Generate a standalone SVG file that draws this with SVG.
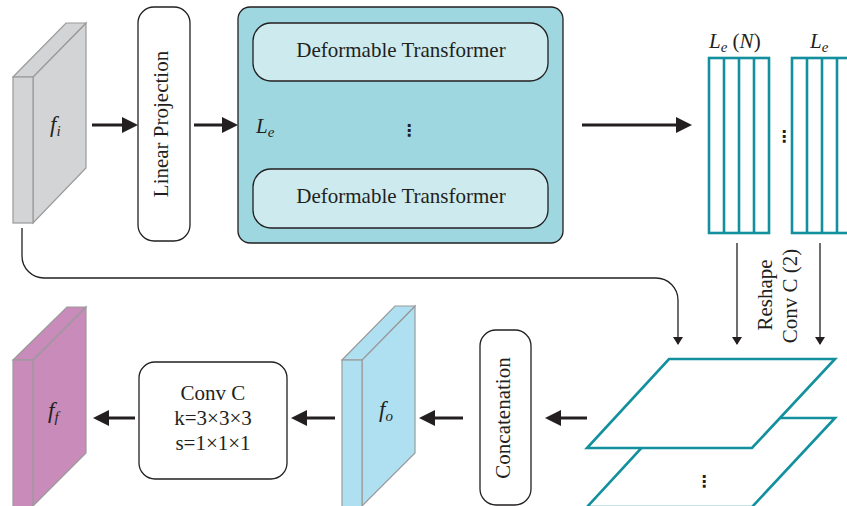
<svg xmlns="http://www.w3.org/2000/svg" width="847" height="506" viewBox="0 0 847 506">
<defs>
<style>
.t{font-family:"Liberation Serif","Times New Roman",serif;font-size:21px;fill:#231f20}
.it{font-style:italic}
.lbl{font-size:23px}
.dots{font-family:"DejaVu Sans",sans-serif;font-size:16px;font-weight:bold;fill:#231f20}
.box{fill:#fff;stroke:#231f20;stroke-width:1.3}
.thick{stroke:#231f20;stroke-width:3;fill:none}
.thin{stroke:#231f20;stroke-width:1.3;fill:none}
.teal{fill:#fff;stroke:#13909d;stroke-width:2.6}
.blk{stroke:#9a9a9a;stroke-width:1.2}
</style>
<marker id="big" markerUnits="userSpaceOnUse" viewBox="0 0 16 16" markerWidth="16" markerHeight="16" refX="8" refY="8" orient="auto">
<path d="M0,0 L16,8 L0,16 z" fill="#231f20"/>
</marker>
<marker id="small" markerUnits="userSpaceOnUse" viewBox="0 0 8 10" markerWidth="8" markerHeight="10" refX="7" refY="5" orient="auto">
<path d="M0,0 L8,5 L0,10 z" fill="#231f20"/>
</marker>
</defs>
<rect width="847" height="506" fill="#fff"/>

<g id="fi">
<polygon class="blk" points="33,77 86,23 86,168 33,223" fill="#d3d4d6"/>
<polygon class="blk" points="13,77 33,77 86,23 66,23" fill="#d3d4d6"/>
<rect class="blk" x="13" y="77" width="20" height="146" fill="#d3d4d6"/>
<text class="t it lbl" x="50" y="132">f<tspan font-size="15" dy="4">i</tspan></text>
</g>

<g id="linear-projection">
<rect class="box" x="138" y="7" width="52" height="234" rx="16"/>
<text class="t" transform="translate(168,124) rotate(-90)" text-anchor="middle">Linear Projection</text>
</g>

<g id="transformer-block">
<rect x="238" y="7" width="325" height="236" rx="12" fill="#9ed7e0" stroke="#231f20" stroke-width="1.3"/>
<rect x="253" y="23" width="295" height="58" rx="18" fill="#cdeaee" stroke="#231f20" stroke-width="1.3"/>
<text class="t" x="401" y="57" text-anchor="middle">Deformable Transformer</text>
<rect x="253" y="169" width="295" height="59" rx="18" fill="#cdeaee" stroke="#231f20" stroke-width="1.3"/>
<text class="t" x="401" y="203" text-anchor="middle">Deformable Transformer</text>
<text class="t it" x="256" y="133">L<tspan font-size="15" dy="4">e</tspan></text>
<text class="dots" x="409" y="136" text-anchor="middle">⋮</text>
</g>

<g id="token-stacks">
<rect class="teal" x="709" y="58" width="60" height="175"/>
<line class="teal" x1="724" y1="58" x2="724" y2="233"/>
<line class="teal" x1="739" y1="58" x2="739" y2="233"/>
<line class="teal" x1="754" y1="58" x2="754" y2="233"/>
<rect class="teal" x="792" y="58" width="60" height="175"/>
<line class="teal" x1="807" y1="58" x2="807" y2="233"/>
<line class="teal" x1="822" y1="58" x2="822" y2="233"/>
<line class="teal" x1="837" y1="58" x2="837" y2="233"/>
<text class="t" x="709" y="48"><tspan class="it">L</tspan><tspan class="it" font-size="15" dy="4">e</tspan><tspan dy="-4"> (</tspan><tspan class="it">N</tspan>)</text>
<text class="t it" x="810" y="48">L<tspan font-size="15" dy="4">e</tspan></text>
<text class="dots" x="784" y="142" text-anchor="middle">⋮</text>
</g>

<g id="feature-planes">
<polygon class="teal" points="669,418 835,418 752,507 587,507"/>
<polygon class="teal" points="669,359 835,359 752,448 587,448"/>
<text class="dots" x="704" y="487" text-anchor="middle">⋮</text>
</g>

<g id="concatenation">
<rect class="box" x="480" y="330" width="51" height="175" rx="16"/>
<text class="t" transform="translate(510,418) rotate(-90)" text-anchor="middle">Concatenation</text>
</g>

<g id="fo">
<polygon class="blk" points="362,360 415,306 415,453 362,506" fill="#afe0f1"/>
<polygon class="blk" points="342,360 362,360 415,306 395,306" fill="#afe0f1"/>
<rect class="blk" x="342" y="360" width="20" height="150" fill="#afe0f1"/>
<text class="t it lbl" x="379" y="417">f<tspan font-size="15" dy="4">o</tspan></text>
</g>

<g id="conv-c">
<rect class="box" x="139" y="362" width="148" height="117" rx="16"/>
<text class="t" x="213" y="400" text-anchor="middle">Conv C</text>
<text class="t" x="213" y="425" text-anchor="middle">k=3×3×3</text>
<text class="t" x="213" y="450" text-anchor="middle">s=1×1×1</text>
</g>

<g id="ff">
<polygon class="blk" points="33,360 86,307 86,453 33,506" fill="#c88bba"/>
<polygon class="blk" points="13,360 33,360 86,307 67,307" fill="#c88bba"/>
<rect class="blk" x="13" y="360" width="20" height="150" fill="#c88bba"/>
<text class="t it lbl" x="48" y="418">f<tspan font-size="15" dy="4">f</tspan></text>
</g>

<g id="labels">
<text class="t" transform="translate(772,295) rotate(-90)" text-anchor="middle">Reshape</text>
<text class="t" transform="translate(797,296) rotate(-90)" text-anchor="middle">Conv C (2)</text>
</g>

<g id="connectors">
<line class="thick" x1="92" y1="125" x2="130" y2="125" marker-end="url(#big)"/>
<line class="thick" x1="194" y1="125" x2="230" y2="125" marker-end="url(#big)"/>
<line class="thick" x1="582" y1="125" x2="684" y2="125" marker-end="url(#big)"/>
<line class="thick" x1="587" y1="418" x2="553" y2="418" marker-end="url(#big)"/>
<line class="thick" x1="463" y1="418" x2="427" y2="418" marker-end="url(#big)"/>
<line class="thick" x1="335" y1="418" x2="299" y2="418" marker-end="url(#big)"/>
<line class="thick" x1="135" y1="418" x2="101" y2="418" marker-end="url(#big)"/>
<path class="thin" d="M22,228 V256 A22,22 0 0 0 44,278 H656 A22,22 0 0 1 678,300 V344" marker-end="url(#small)"/>
<line class="thin" x1="737" y1="243" x2="737" y2="344" marker-end="url(#small)"/>
<line class="thin" x1="820" y1="243" x2="820" y2="344" marker-end="url(#small)"/>
</g>
</svg>
